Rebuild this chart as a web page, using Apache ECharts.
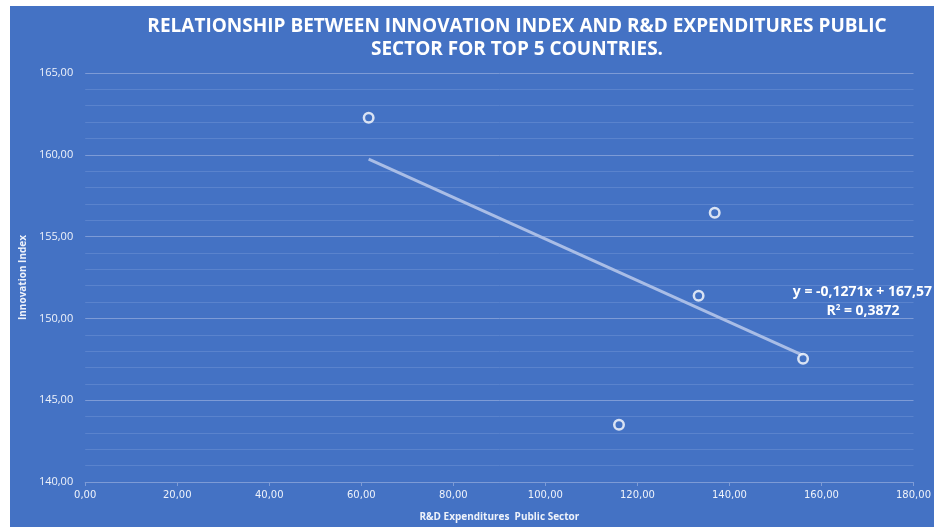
<!DOCTYPE html>
<html>
<head>
<meta charset="utf-8">
<script src="https://cdn.jsdelivr.net/npm/echarts@6/dist/echarts.min.js"></script>
<style>
  html, body { margin: 0; padding: 0; background: #fff; }
  #chart { position: absolute; left: 10px; top: 6px; width: 924px; height: 521px; background: #4472c4; }
</style>
</head>
<body>
<div id="chart"></div>
<script>
// R&D expenditures public sector vs innovation index (top 5 countries)
const rdExpenditure = [61.6, 116.0, 133.3, 136.8, 156.0];
const innovationIndex = [162.27, 143.5, 151.39, 156.46, 147.54];
// trendline from the Excel label
const slope = -0.1271;
const intercept = 167.57;
const rSquared = '0,3872';

const fmt = v => v.toFixed(2).replace('.', ',');
const points = rdExpenditure.map((x, i) => [x, innovationIndex[i]]);
const xMin = Math.min(...rdExpenditure);
const xMax = Math.max(...rdExpenditure);
const trend = [[xMin, slope * xMin + intercept], [xMax, slope * xMax + intercept]];

const labelColor = '#eef2fa';
const font = "'Open Sans', 'Liberation Sans', sans-serif";

const chart = echarts.init(document.getElementById('chart'));
chart.setOption({
  animation: false,
  backgroundColor: '#4472c4',
  title: {
    text: 'RELATIONSHIP BETWEEN INNOVATION INDEX AND R&D EXPENDITURES PUBLIC\nSECTOR FOR TOP 5 COUNTRIES.',
    left: 502,
    top: 4,
    textAlign: 'center',
    textStyle: {
      color: '#ffffff',
      fontFamily: font,
      fontWeight: 'bold',
      fontSize: 19,
      lineHeight: 23
    }
  },
  grid: { left: 71, right: 20, top: 67, bottom: 45 },
  xAxis: {
    type: 'value',
    min: 0,
    max: 180,
    interval: 20,
    name: 'R&D Expenditures  Public Sector',
    nameLocation: 'middle',
    nameGap: 30,
    nameTextStyle: { color: labelColor, fontFamily: font, fontWeight: 'bold', fontSize: 10 },
    axisLine: { show: true, lineStyle: { color: '#7d9bd6', width: 1 } },
    axisTick: { show: true, length: 4, lineStyle: { color: '#7d9bd6' } },
    axisLabel: { color: labelColor, fontFamily: 'DejaVu Sans', fontSize: 10, margin: 8, formatter: fmt },
    splitLine: { show: false }
  },
  yAxis: {
    type: 'value',
    min: 140,
    max: 165,
    interval: 5,
    name: 'Innovation Index',
    nameLocation: 'middle',
    nameRotate: 90,
    nameGap: 48,
    nameTextStyle: { color: labelColor, fontFamily: font, fontWeight: 'bold', fontSize: 10 },
    axisLine: { show: false },
    axisTick: { show: false },
    axisLabel: { color: labelColor, fontFamily: font, fontSize: 11, margin: 12, formatter: fmt },
    splitLine: { show: true, lineStyle: { color: '#7d9bd6', width: 1 } },
    minorTick: { show: false, splitNumber: 5 },
    minorSplitLine: { show: true, lineStyle: { color: '#5a83cd', width: 1 } }
  },
  series: [
    {
      type: 'line',
      data: trend,
      symbol: 'none',
      lineStyle: { color: '#a9bde6', width: 3 },
      z: 2
    },
    {
      type: 'scatter',
      data: points,
      symbol: 'circle',
      symbolSize: 9.5,
      itemStyle: { color: '#4472c4', borderColor: '#ffffff', borderWidth: 2.5 },
      z: 3
    }
  ],
  graphic: [
    {
      type: 'text',
      x: 922,
      y: 286,
      style: {
        text: 'y = -0,1271x + 167,57',
        fill: '#ffffff',
        font: "bold 14px 'Open Sans', sans-serif",
        align: 'right',
        verticalAlign: 'middle'
      }
    },
    {
      type: 'text',
      x: 853,
      y: 305,
      style: {
        rich: {
          a: { fill: '#ffffff', font: "bold 14px 'Open Sans', sans-serif" },
          s: { fill: '#ffffff', font: "bold 8px 'Open Sans', sans-serif", verticalAlign: 'top', padding: [0, 0, 6, 0] }
        },
        text: '{a|R}{s|2}{a| = ' + rSquared + '}',
        align: 'center',
        verticalAlign: 'middle'
      }
    }
  ]
});
</script>
</body>
</html>
